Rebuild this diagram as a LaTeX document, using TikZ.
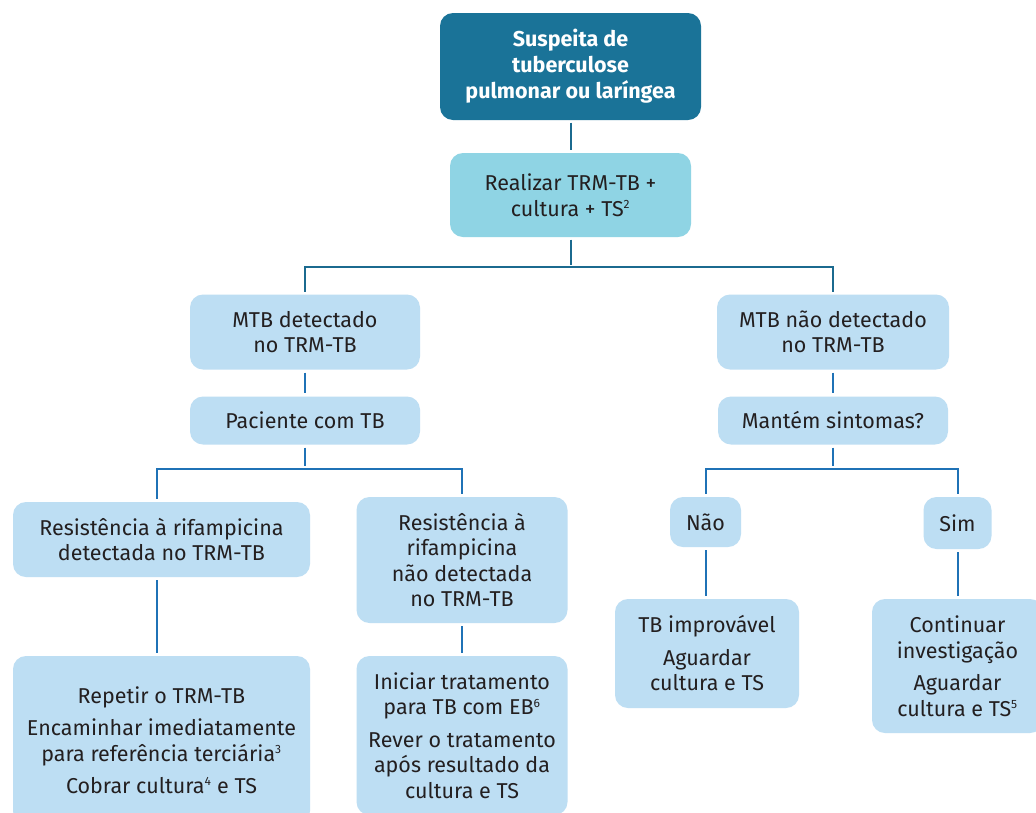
\documentclass[tikz,border=0pt]{standalone}
\usepackage{fontspec}
\setmainfont{Fira Sans}
\usetikzlibrary{calc}
\definecolor{titlefill}{HTML}{1A7398}
\definecolor{cyanfill}{HTML}{8FD4E4}
\definecolor{lightfill}{HTML}{BDDEF3}
\definecolor{txt}{HTML}{231F20}
\definecolor{tealline}{HTML}{1B6A8F}
\definecolor{blueline}{HTML}{1F72B6}
\tikzset{
  box/.style={rounded corners=13pt, fill=lightfill, text=txt, align=center, inner sep=0pt,
    font=\fontsize{21.5}{25.5}\selectfont},
  titlebox/.style={box, fill=titlefill, text=white, font=\fontsize{21.5}{26}\selectfont\bfseries},
  cyanbox/.style={box, fill=cyanfill},
  tline/.style={draw=tealline, line width=2pt, shorten <=2.5pt, shorten >=2.5pt},
  bline/.style={draw=blueline, line width=2pt, shorten <=3pt, shorten >=3pt},
}
\newcommand{\sps}[1]{\textsuperscript{\fontsize{12}{12}\selectfont #1}}
\begin{document}
\begin{tikzpicture}[x=1pt,y=-1pt]
\clip (0,0) rectangle (1036,812);
\fill[white] (0,0) rectangle (1036,812);
\node[titlebox, minimum width=261pt, minimum height=107pt] (title) at (570.5,66.5) {Suspeita de\\tuberculose\\pulmonar ou laríngea};
\node[cyanbox, minimum width=241pt, minimum height=84pt] (realizar) at (570.5,195) {Realizar TRM-TB +\\cultura + TS\sps{2}};
\node[box, minimum width=230pt, minimum height=75pt] (mtb) at (305,332) {MTB detectado\\no TRM-TB};
\node[box, minimum width=232pt, minimum height=75pt] (mtbn) at (833,332) {MTB não detectado\\no TRM-TB};
\node[box, minimum width=230pt, minimum height=48pt] (pac) at (305,420.5) {Paciente com TB};
\node[box, minimum width=230pt, minimum height=48pt] (mant) at (833,420.5) {Mantém sintomas?};
\node[box, minimum width=297pt, minimum height=75pt] (res1) at (161.5,539.5) {Resistência à rifampicina\\detectada no TRM-TB};
\node[box, minimum width=211pt, minimum height=126pt] (res2) at (462,560) {Resistência à\\rifampicina\\não detectada\\no TRM-TB};
\node[box, minimum width=71pt, minimum height=50pt] (nao) at (705.5,522) {Não};
\node[box, minimum width=68pt, minimum height=52pt] (sim) at (957.5,523) {Sim};
\node[box, minimum width=184pt, minimum height=109pt] (tbi) at (707,653.5) {TB improvável\\[7pt]Aguardar\\cultura e TS};
\node[box, minimum width=171pt, minimum height=134pt] (cont) at (957.5,666) {Continuar\\investigação\\[7pt]Aguardar\\cultura e TS\sps{5}};
\node[box, minimum width=297pt, minimum height=168pt] (rep) at (161.5,740) {Repetir o TRM-TB\\[7pt]Encaminhar imediatamente\\para referência terciária\sps{3}\\[7pt]Cobrar cultura\sps{4} e TS};
\node[box, minimum width=211pt, minimum height=159pt] (ini) at (462,735.5) {Iniciar tratamento\\para TB com EB\sps{6}\\[7pt]Rever o tratamento\\após resultado da\\cultura e TS};
% junctions
\coordinate (j1) at (570.5,267);
\coordinate (j2) at (305,469);
\coordinate (j3) at (833,469);
\coordinate (c1t) at ([xshift=-4.5pt]res1.south);
\coordinate (c1n) at ([xshift=-4.5pt]res1.north);
% connectors
\draw[tline] (title) -- (realizar);
\draw[tline] (realizar.south) -- (j1);
\draw[tline] (mtb.north) |- (j1) -| (mtbn.north);
\draw[bline] (mtb) -- (pac);
\draw[bline] (mtbn) -- (mant);
\draw[bline] (pac.south) -- (j2);
\draw[bline] (c1n) |- (j2) -| (res2.north);
\draw[bline] (mant.south) -- (j3);
\draw[bline] (nao.north) |- (j3) -| (sim.north);
\draw[bline] (c1t) -- (c1t |- rep.north);
\draw[bline] (res2) -- (ini);
\draw[bline] (nao.south) -- (nao.south |- tbi.north);
\draw[bline] (sim) -- (cont);
\end{tikzpicture}
\end{document}
